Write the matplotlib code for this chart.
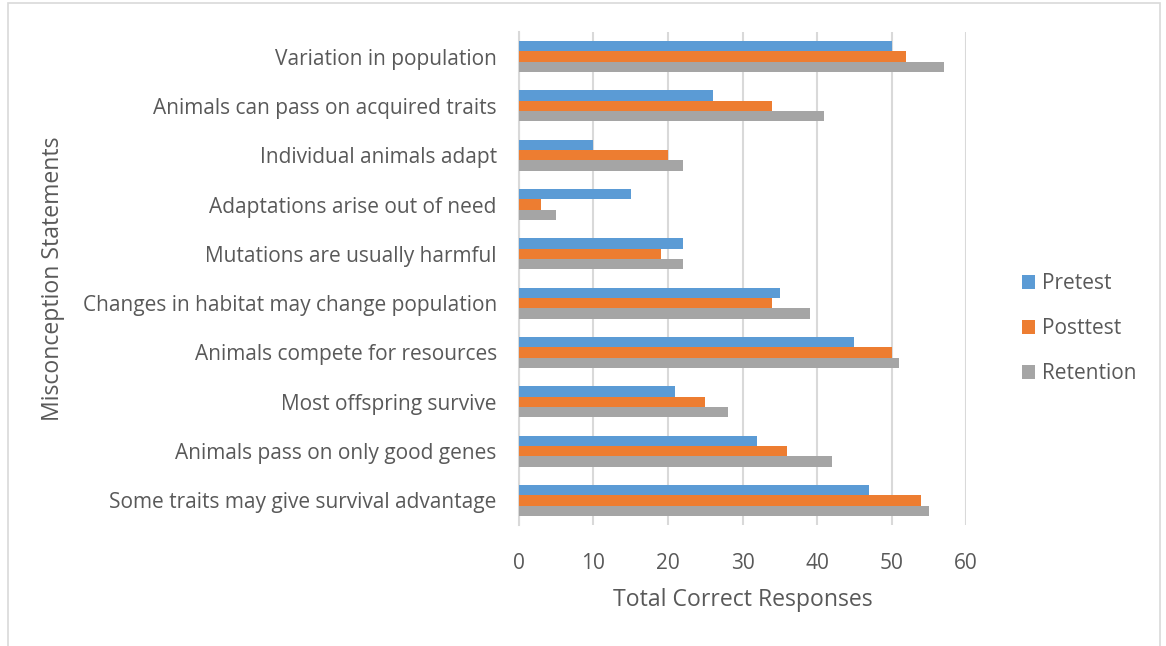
import matplotlib.pyplot as plt
import numpy as np
from matplotlib.patches import Rectangle

categories = [
    "Variation in population",
    "Animals can pass on acquired traits",
    "Individual animals adapt",
    "Adaptations arise out of need",
    "Mutations are usually harmful",
    "Changes in habitat may change population",
    "Animals compete for resources",
    "Most offspring survive",
    "Animals pass on only good genes",
    "Some traits may give survival advantage",
]
pretest = [50, 26, 10, 15, 22, 35, 45, 21, 32, 47]
posttest = [52, 34, 20, 3, 19, 34, 50, 25, 36, 54]
retention = [57, 41, 22, 5, 22, 39, 51, 28, 42, 55]
series_names = ["Pretest", "Posttest", "Retention"]
colors = ["#5b9bd5", "#ed7d31", "#a5a5a5"]

plt.rcParams['font.family'] = ['Open Sans', 'DejaVu Sans']
text_color = "#595959"

fig = plt.figure(figsize=(11.66, 6.46), dpi=100)
ax = fig.add_axes([0.4451, 0.1873, 0.3834, 0.7632])

y = np.arange(len(categories))
h = 0.21
for i, (vals, name, c) in enumerate(zip([pretest, posttest, retention], series_names, colors)):
    ax.barh(y + (i - 1) * h, vals, height=h, color=c, label=name, zorder=3)

ax.set_ylim(len(categories) - 0.5, -0.5)
ax.set_xlim(0, 60)
ax.set_xticks(range(0, 61, 10))
ax.set_yticks(y)
ax.set_yticklabels(categories)
ax.tick_params(axis='both', length=0, labelsize=15, colors=text_color)
ax.tick_params(axis='x', pad=20)
ax.tick_params(axis='y', pad=16)
ax.grid(axis='x', color="#d9d9d9", linewidth=1.5, zorder=0)
for s in ['top', 'right', 'bottom']:
    ax.spines[s].set_visible(False)
ax.spines['left'].set_color("#d9d9d9")
ax.spines['left'].set_linewidth(1.5)

ax.set_xlabel("Total Correct Responses", fontsize=16.6, color=text_color, labelpad=10)
ax.set_ylabel("Misconception Statements", fontsize=16.6, color=text_color)
ax.yaxis.set_label_coords(-1.016, 0.5)

fig.legend(loc='center left', bbox_to_anchor=(0.86, 0.491), frameon=False,
           fontsize=15, labelcolor=text_color, handlelength=0.65, handleheight=0.65,
           labelspacing=1.15, handletextpad=0.35)

fig.patches.append(Rectangle((8 / 1166, -0.1), 1152 / 1166, 1.1 - 3 / 646,
                             transform=fig.transFigure, fill=False,
                             edgecolor="#d9d9d9", linewidth=1.2))

fig.savefig("out.png", dpi=100)
